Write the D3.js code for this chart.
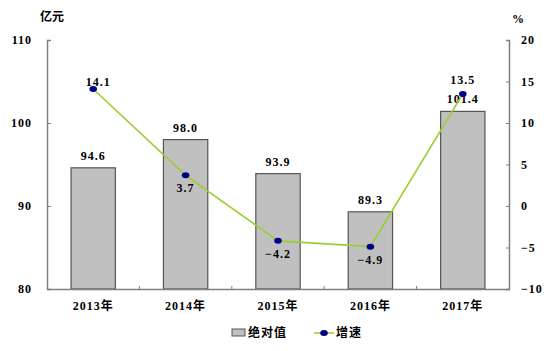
<!DOCTYPE html>
<html>
<head>
<meta charset="utf-8">
<script src="https://cdn.jsdelivr.net/npm/d3@7"></script>
<style>
body { margin: 0; background: #fff; }
text { font-family: "Liberation Serif", "Noto Sans CJK SC", serif; font-weight: bold; font-size: 12px; fill: #000; }
.cjk { font-family: "Liberation Serif", "Noto Sans CJK SC", sans-serif; }
</style>
</head>
<body>
<div id="chart"></div>
<script>
// data
var years = ["2013年", "2014年", "2015年", "2016年", "2017年"];
var absValues = [94.6, 98.0, 93.9, 89.3, 101.4];
var growth = [14.1, 3.7, -4.2, -4.9, 13.5];
var leftTicks = [80, 90, 100, 110];
var rightTicks = [-10, -5, 0, 5, 10, 15, 20];

var W = 556, H = 351;
var margin = {top: 40, right: 47, bottom: 62, left: 47},
    width = W - margin.left - margin.right,
    height = H - margin.top - margin.bottom;

var svg = d3.select("#chart").append("svg")
    .attr("width", W).attr("height", H);
var g = svg.append("g")
    .attr("transform", "translate(" + margin.left + "," + margin.top + ")");

var x = d3.scaleBand().domain(years).range([0, width]).paddingInner(0.52).paddingOuter(0.26);
var xb = d3.scaleBand().domain(years).range([0, width]);
var yL = d3.scaleLinear().domain([80, 110]).range([height, 0]);
var yR = d3.scaleLinear().domain([-10, 20]).range([height, 0]);

// bars
g.selectAll(".bar").data(absValues).enter().append("rect")
  .attr("x", function(d, i) { return x(years[i]); })
  .attr("y", function(d) { return yL(d); })
  .attr("width", x.bandwidth())
  .attr("height", function(d) { return height - yL(d); })
  .attr("fill", "#c0c0c0")
  .attr("stroke", "#555")
  .attr("stroke-width", 1.2);

// bar labels
g.selectAll(".blab").data(absValues).enter().append("text")
  .attr("x", function(d, i) { return x(years[i]) + x.bandwidth() / 2; })
  .attr("y", function(d) { return yL(d) - 8; })
  .attr("text-anchor", "middle")
  .style("letter-spacing", "1px")
  .text(function(d) { return d.toFixed(1); });

// left axis
var axL = g.append("g").call(d3.axisLeft(yL).tickValues(leftTicks).tickSize(-4).tickPadding(15));
// right axis
var axR = g.append("g").attr("transform", "translate(" + width + ",0)")
  .call(d3.axisRight(yR).tickValues(rightTicks).tickSize(-3).tickPadding(12)
    .tickFormat(function(d) { return d < 0 ? "\u2212" + Math.abs(d) : d; }));
// bottom axis
var axB = g.append("g").attr("transform", "translate(0," + height + ")")
  .call(d3.axisBottom(xb).tickSize(0).tickPadding(10));
axB.selectAll(".tick text").attr("dy", "0.9em").attr("class", "cjk");
years.slice(1).forEach(function(y) {
  axB.append("line").attr("x1", xb(y)).attr("x2", xb(y)).attr("y1", 0).attr("y2", -3)
    .attr("stroke", "#808080");
});
[axL, axR, axB].forEach(function(a) {
  a.select(".domain").attr("stroke", "#808080").attr("stroke-width", 1.5);
  a.selectAll(".tick line").attr("stroke", "#808080");
  a.selectAll(".tick text").attr("font-size", "12px").attr("font-family", null)
    .style("letter-spacing", "1px");
});

// line
var cx = function(i) { return xb(years[i]) + xb.bandwidth() / 2; };
var line = d3.line().x(function(d, i) { return cx(i); }).y(function(d) { return yR(d); });
g.append("path").datum(growth).attr("d", line)
  .attr("fill", "none").attr("stroke", "#9acd32").attr("stroke-width", 1.6);
g.selectAll(".pt").data(growth).enter().append("ellipse")
  .attr("cx", function(d, i) { return cx(i); })
  .attr("cy", function(d) { return yR(d); })
  .attr("rx", 3.8).attr("ry", 3)
  .attr("fill", "#00008b");
var below = [false, true, true, true, false];
g.selectAll(".glab").data(growth).enter().append("text")
  .attr("x", function(d, i) { return cx(i) + (i === 0 ? 5 : 0); })
  .attr("y", function(d, i) { return yR(d) + (below[i] ? 17 : (i === 0 ? -3 : -10)); })
  .attr("text-anchor", "middle")
  .style("letter-spacing", "1px")
  .text(function(d) { return (d < 0 ? "\u2212" + Math.abs(d).toFixed(1) : d.toFixed(1)); });

// units
svg.append("text").attr("class", "cjk").attr("x", 40).attr("y", 21).text("亿元");
svg.append("text").attr("x", 512).attr("y", 23).text("%");

// legend
var lg = svg.append("g").attr("transform", "translate(232,333)");
lg.append("rect").attr("x", 0).attr("y", -4).attr("width", 13).attr("height", 7)
  .attr("fill", "#c0c0c0").attr("stroke", "#555");
lg.append("text").attr("class", "cjk").attr("x", 16).attr("y", 4).style("letter-spacing", "1px").text("绝对值");
lg.append("line").attr("x1", 82).attr("x2", 102).attr("y1", 0).attr("y2", 0)
  .attr("stroke", "#9acd32").attr("stroke-width", 1.6);
lg.append("ellipse").attr("cx", 92).attr("cy", 0).attr("rx", 3.8).attr("ry", 3).attr("fill", "#00008b");
lg.append("text").attr("class", "cjk").attr("x", 104).attr("y", 4).style("letter-spacing", "1px").text("增速");
</script>
</body>
</html>
